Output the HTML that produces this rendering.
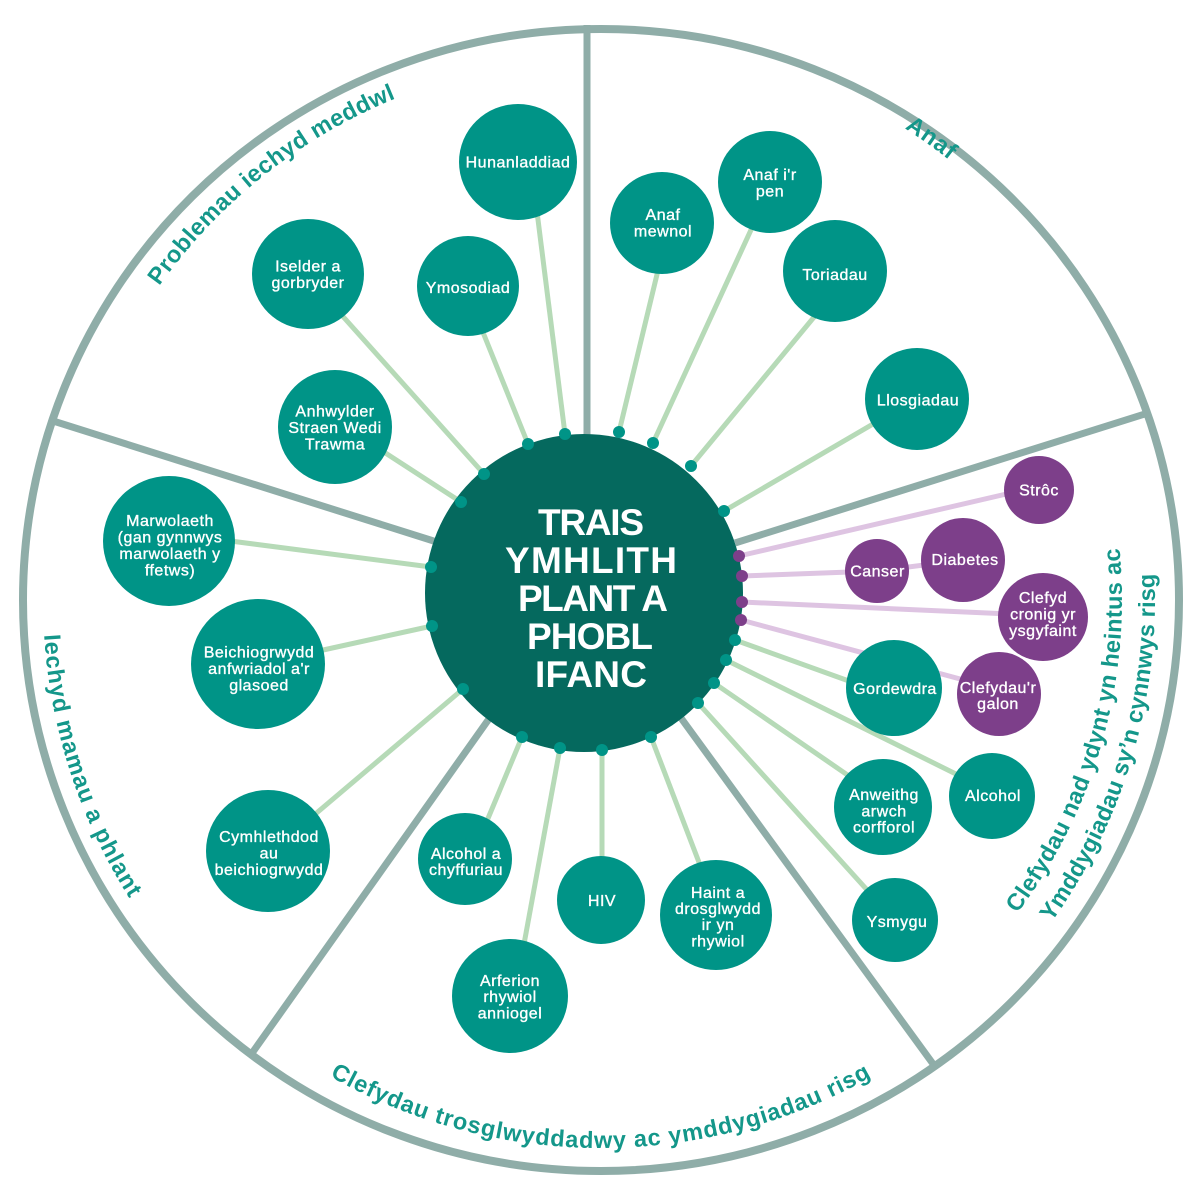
<!DOCTYPE html>
<html><head><meta charset="utf-8">
<style>
html,body{margin:0;padding:0;background:#fff;}
svg{display:block;}
.n{font-family:"Liberation Sans",sans-serif;font-size:16px;fill:#fff;text-anchor:middle;letter-spacing:0.5px;stroke:#fff;stroke-width:0.35px;}
.lab{font-family:"Liberation Sans",sans-serif;font-size:23.5px;font-weight:bold;fill:#14978a;}
.ct{font-family:"Liberation Sans",sans-serif;font-size:37px;font-weight:bold;fill:#fff;text-anchor:middle;}
</style></head><body>
<svg width="1200" height="1201" viewBox="0 0 1200 1201" xmlns="http://www.w3.org/2000/svg">
<defs>
<path id="pA" d="M 97.1 400.5 A 542 542 0 0 1 521.8 63.8"/>
<path id="pB" d="M 751.9 59.6 A 561 561 0 0 1 1063.9 283"/>
<path id="pC" d="M 126.4 874 A 548 548 0 0 0 1075.6 874"/>
<path id="pD" d="M 55.2 484 A 558 558 0 0 0 227.6 1014.7"/>
<path id="pE" d="M 965.5 972.3 A 521 521 0 0 0 1105.6 470.4"/>
<path id="pF" d="M 983 1001.2 A 554 554 0 0 0 1139.5 469.8"/>
</defs>

<!-- dividers -->
<g stroke="#8fada8" stroke-width="7" stroke-linecap="butt">
<line x1="587" y1="25" x2="587" y2="440"/>
<line x1="50" y1="420" x2="440" y2="543"/>
<line x1="1148" y1="413" x2="735" y2="543"/>
<line x1="491" y1="716" x2="250" y2="1056"/>
<line x1="681" y1="718" x2="936" y2="1068"/>
</g>
<!-- outer ring -->
<ellipse cx="601" cy="600" rx="578" ry="571" fill="none" stroke="#8fada8" stroke-width="8"/>

<!-- connectors green -->
<g stroke="#b6dab7" stroke-width="5">
<line x1="565" y1="434" x2="533" y2="180"/>
<line x1="528" y1="444" x2="476" y2="315"/>
<line x1="484" y1="474" x2="330" y2="302"/>
<line x1="461" y1="502" x2="370" y2="443"/>
<line x1="431" y1="567" x2="215" y2="539"/>
<line x1="432" y1="626" x2="305" y2="654"/>
<line x1="463" y1="689" x2="300" y2="827"/>
<line x1="522" y1="737" x2="484" y2="828"/>
<line x1="560" y1="748" x2="522" y2="955"/>
<line x1="602" y1="750" x2="602" y2="870"/>
<line x1="651" y1="737" x2="705" y2="878"/>
<line x1="698" y1="703" x2="878" y2="902"/>
<line x1="714" y1="683" x2="862" y2="785"/>
<line x1="726" y1="660" x2="970" y2="781"/>
<line x1="735" y1="640" x2="860" y2="685"/>
<line x1="724" y1="511" x2="885" y2="417"/>
<line x1="691" y1="466" x2="824" y2="305"/>
<line x1="653" y1="443" x2="756" y2="219"/>
<line x1="619" y1="432" x2="660" y2="262"/>
</g>
<!-- connectors purple -->
<g stroke="#dec4e2" stroke-width="5">
<line x1="741" y1="620" x2="975" y2="683"/>
<line x1="742" y1="602" x2="1010" y2="614"/>
<line x1="742" y1="576" x2="877" y2="571"/>
<line x1="877" y1="571" x2="963" y2="560"/>
<line x1="739" y1="556" x2="1015" y2="492"/>
</g>

<!-- center circle -->
<circle cx="584" cy="593" r="159" fill="#05695e"/>

<!-- dots -->
<g fill="#009487">
<circle cx="565" cy="434" r="6"/><circle cx="528" cy="444" r="6"/><circle cx="484" cy="474" r="6"/>
<circle cx="461" cy="502" r="6"/><circle cx="431" cy="567" r="6"/><circle cx="432" cy="626" r="6"/>
<circle cx="463" cy="689" r="6"/><circle cx="522" cy="737" r="6"/><circle cx="560" cy="748" r="6"/>
<circle cx="602" cy="750" r="6"/><circle cx="651" cy="737" r="6"/><circle cx="698" cy="703" r="6"/>
<circle cx="714" cy="683" r="6"/><circle cx="726" cy="660" r="6"/><circle cx="735" cy="640" r="6"/>
<circle cx="724" cy="511" r="6"/><circle cx="691" cy="466" r="6"/><circle cx="653" cy="443" r="6"/>
<circle cx="619" cy="432" r="6"/>
</g>
<g fill="#7d3f8a">
<circle cx="739" cy="556" r="6"/><circle cx="742" cy="576" r="6"/><circle cx="742" cy="602" r="6"/><circle cx="741" cy="620" r="6"/>
</g>

<!-- teal blobs -->
<g fill="#009487">
<ellipse cx="518" cy="162" rx="59" ry="58"/>
<ellipse cx="308" cy="274" rx="56" ry="55"/>
<ellipse cx="468" cy="286" rx="51" ry="50"/>
<ellipse cx="335" cy="427" rx="57" ry="57"/>
<ellipse cx="169" cy="541" rx="66" ry="65"/>
<ellipse cx="258" cy="664" rx="67" ry="65"/>
<ellipse cx="268" cy="851" rx="62" ry="61"/>
<ellipse cx="465" cy="859" rx="47" ry="46"/>
<ellipse cx="510" cy="996" rx="58" ry="57"/>
<ellipse cx="601" cy="900" rx="44" ry="44"/>
<ellipse cx="716" cy="915" rx="56" ry="55"/>
<ellipse cx="895" cy="920" rx="43" ry="42"/>
<ellipse cx="883" cy="807" rx="49" ry="48"/>
<ellipse cx="992" cy="796" rx="43" ry="43"/>
<ellipse cx="894" cy="688" rx="48" ry="48"/>
<ellipse cx="917" cy="399" rx="52" ry="51"/>
<ellipse cx="835" cy="271" rx="52" ry="51"/>
<ellipse cx="770" cy="182" rx="52" ry="51"/>
<ellipse cx="662" cy="223" rx="52" ry="51"/>
</g>
<!-- purple blobs -->
<g fill="#7d3f8a">
<ellipse cx="999" cy="694" rx="42" ry="42"/>
<ellipse cx="1043" cy="617" rx="45" ry="44"/>
<ellipse cx="877" cy="571" rx="32" ry="32"/>
<ellipse cx="963" cy="560" rx="42" ry="42"/>
<ellipse cx="1039" cy="490" rx="35" ry="34"/>
</g>

<!-- node text -->
<g class="n">
<text x="518" y="167.5">Hunanladdiad</text>
<text x="308" y="271.5">Iselder a</text><text x="308" y="288">gorbryder</text>
<text x="468" y="293">Ymosodiad</text>
<text x="335" y="416.5">Anhwylder</text><text x="335" y="433">Straen Wedi</text><text x="335" y="449.5">Trawma</text>
<text x="170" y="526">Marwolaeth</text><text x="170" y="542.5">(gan gynnwys</text><text x="170" y="559">marwolaeth y</text><text x="170" y="575.5">ffetws)</text>
<text x="259" y="657.5">Beichiogrwydd</text><text x="259" y="674">anfwriadol a'r</text><text x="259" y="690.5">glasoed</text>
<text x="269" y="842">Cymhlethdod</text><text x="269" y="858.5">au</text><text x="269" y="875">beichiogrwydd</text>
<text x="466" y="859">Alcohol a</text><text x="466" y="875">chyffuriau</text>
<text x="510" y="986">Arferion</text><text x="510" y="1002">rhywiol</text><text x="510" y="1018.5">anniogel</text>
<text x="602" y="906">HIV</text>
<text x="718" y="898">Haint a</text><text x="718" y="914">drosglwydd</text><text x="718" y="930">ir yn</text><text x="718" y="946.5">rhywiol</text>
<text x="897" y="927">Ysmygu</text>
<text x="884" y="800">Anweithg</text><text x="884" y="816.5">arwch</text><text x="884" y="832.5">corfforol</text>
<text x="993" y="801">Alcohol</text>
<text x="895" y="694">Gordewdra</text>
<text x="998" y="693">Clefydau'r</text><text x="998" y="709">galon</text>
<text x="1043" y="603">Clefyd</text><text x="1043" y="619.5">cronig yr</text><text x="1043" y="636">ysgyfaint</text>
<text x="877.5" y="576.5">Canser</text>
<text x="965" y="565">Diabetes</text>
<text x="1039" y="495.5">Strôc</text>
<text x="918" y="405.5">Llosgiadau</text>
<text x="835" y="280">Toriadau</text>
<text x="770" y="180">Anaf i'r</text><text x="770" y="196.5">pen</text>
<text x="663" y="220">Anaf</text><text x="663" y="236.5">mewnol</text>
</g>

<!-- center text -->
<text class="ct" x="591" y="535" textLength="106">TRAIS</text>
<text class="ct" x="591" y="573" textLength="172">YMHLITH</text>
<text class="ct" x="593" y="611" textLength="150">PLANT A</text>
<text class="ct" x="590" y="649" textLength="126">PHOBL</text>
<text class="ct" x="591" y="687" textLength="112">IFANC</text>

<!-- section labels -->
<text class="lab" style="letter-spacing:0.43px"><textPath href="#pA" startOffset="50%" text-anchor="middle">Problemau iechyd meddwl</textPath></text>
<text class="lab" style="letter-spacing:0.8px"><textPath href="#pB" startOffset="50%" text-anchor="middle">Anaf</textPath></text>
<text class="lab" style="letter-spacing:0.86px"><textPath href="#pC" startOffset="50%" text-anchor="middle">Clefydau trosglwyddadwy ac ymddygiadau risg</textPath></text>
<text class="lab" style="letter-spacing:1px"><textPath href="#pD" startOffset="50%" text-anchor="middle">Iechyd mamau a phlant</textPath></text>
<text class="lab" style="letter-spacing:0.47px"><textPath href="#pE" startOffset="50%" text-anchor="middle">Clefydau nad ydynt yn heintus ac</textPath></text>
<text class="lab" style="letter-spacing:0.25px"><textPath href="#pF" startOffset="50%" text-anchor="middle">Ymddygiadau sy’n cynnwys risg</textPath></text>
</svg>
</body></html>
